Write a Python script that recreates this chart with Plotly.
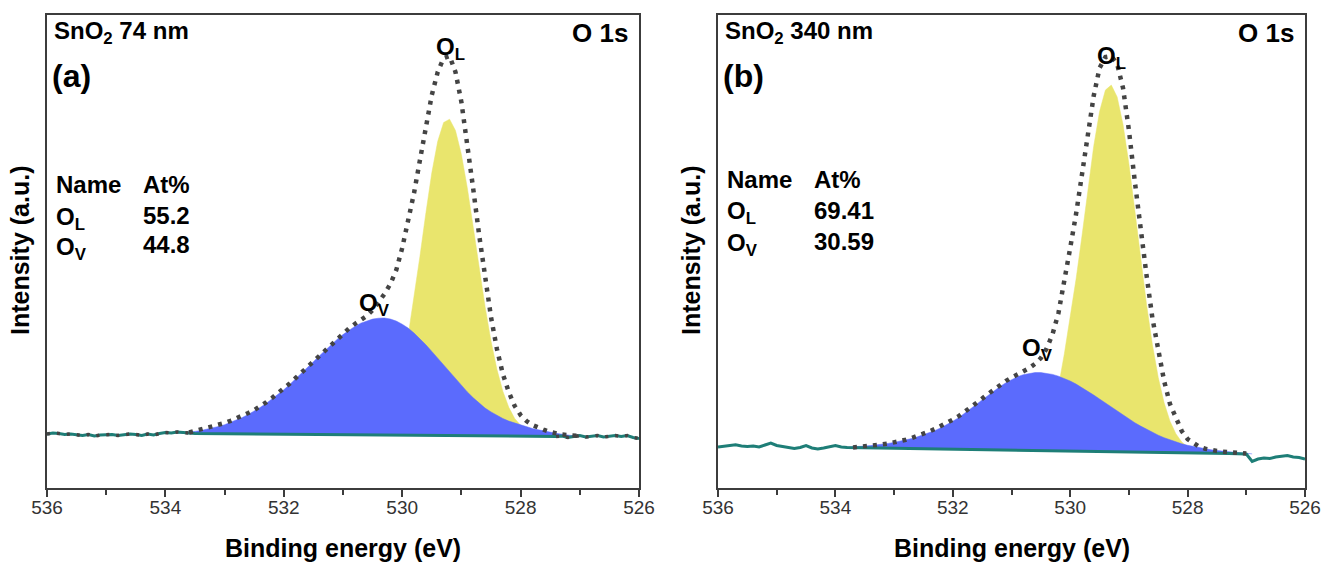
import plotly.graph_objects as go

W, H = 1323, 564
TOP, BOTTOM = 15, 488          # plot-area pixel rows
XA = (47, 639)                 # panel (a) pixel columns
XB = (718, 1305)               # panel (b) pixel columns

# ------------------------- panel (a): SnO2 74 nm -------------------------
E_a_noise_left = [536.0, 535.9, 535.8, 535.7, 535.6, 535.5, 535.4, 535.3, 535.2, 535.1,
                  535.0, 534.9, 534.8, 534.7, 534.6, 534.5, 534.4, 534.3, 534.2, 534.1,
                  534.0, 533.9, 533.8, 533.7, 533.6, 533.5]
I_a_noise_left = [54.0, 55.0, 54.5, 53.5, 54.0, 53.0, 52.5, 53.5, 52.0, 53.0,
                  53.5, 53.5, 52.5, 53.0, 54.0, 53.5, 52.5, 54.0, 53.0, 54.5,
                  55.5, 55.0, 56.0, 55.5, 55.0, 54.6]
E_a_noise_right = [527.4, 527.3, 527.2, 527.1, 527.0, 526.9, 526.8, 526.7, 526.6, 526.5,
                   526.4, 526.3, 526.2, 526.1, 526.0]
I_a_noise_right = [51.5, 52.0, 50.5, 51.5, 52.5, 51.0, 52.0, 52.5, 51.0, 52.0,
                   52.5, 51.5, 52.5, 50.5, 49.5]

E_a_ov = [533.8, 533.7, 533.6, 533.5, 533.4, 533.3, 533.2, 533.1, 533.0, 532.9,
          532.8, 532.7, 532.6, 532.5, 532.4, 532.3, 532.2, 532.1, 532.0, 531.9,
          531.8, 531.7, 531.6, 531.5, 531.4, 531.3, 531.2, 531.1, 531.0, 530.9,
          530.8, 530.7, 530.6, 530.5, 530.4, 530.3, 530.2, 530.1, 530.0, 529.9,
          529.8, 529.7, 529.6, 529.5, 529.4, 529.3, 529.2, 529.1, 529.0, 528.9,
          528.8, 528.7, 528.6, 528.5, 528.4, 528.3, 528.2, 528.1, 528.0, 527.9,
          527.8, 527.7, 527.6, 527.5, 527.4, 527.3, 527.2, 527.1, 527.0]
I_a_ov = [54.7, 55.2, 55.8, 56.6, 57.5, 58.7, 60.0, 61.6, 63.3, 65.5,
          67.8, 70.5, 73.6, 76.9, 80.5, 84.4, 88.7, 93.3, 98.2, 103.5,
          109.0, 114.7, 120.4, 126.3, 132.1, 137.9, 143.4, 148.6, 153.4, 157.8,
          161.6, 164.8, 167.2, 168.9, 169.8, 170.0, 169.0, 166.9, 163.8, 159.9,
          154.9, 149.4, 143.2, 136.6, 129.7, 122.7, 115.7, 109.0, 102.3, 96.1,
          90.2, 84.8, 79.9, 76.1, 72.5, 69.5, 66.9, 64.9, 62.8, 61.1,
          59.5, 58.2, 56.9, 55.8, 54.7, 53.8, 52.9, 52.2, 51.3]

E_a_ol = [530.8, 530.7, 530.6, 530.5, 530.4, 530.3, 530.2, 530.1, 530.0, 529.9,
          529.8, 529.7, 529.6, 529.5, 529.4, 529.3, 529.2, 529.1, 529.0, 528.9,
          528.8, 528.7, 528.6, 528.5, 528.4, 528.3, 528.2, 528.1, 528.0, 527.9,
          527.8, 527.7, 527.6, 527.5, 527.4]
I_a_ol = [53.2, 54.4, 55.6, 58.0, 62.2, 69.4, 80.8, 97.7, 121.3, 152.1,
          189.6, 231.8, 275.1, 315.2, 346.7, 365.5, 368.8, 357.5, 333.5, 300.1,
          260.8, 220.1, 181.3, 147.0, 118.7, 96.8, 80.7, 69.5, 62.8, 58.8,
          55.9, 54.1, 52.9, 52.2, 51.5]

E_a_env = [533.6, 533.5, 533.4, 533.3, 533.2, 533.1, 533.0, 532.9, 532.8, 532.7,
           532.6, 532.5, 532.4, 532.3, 532.2, 532.1, 532.0, 531.9, 531.8, 531.7,
           531.6, 531.5, 531.4, 531.3, 531.2, 531.1, 531.0, 530.9, 530.8, 530.7,
           530.6, 530.5, 530.4, 530.3, 530.2, 530.1, 530.0, 529.9, 529.8, 529.7,
           529.6, 529.5, 529.4, 529.3, 529.2, 529.1, 529.0, 528.9, 528.8, 528.7,
           528.6, 528.5, 528.4, 528.3, 528.2, 528.1, 528.0, 527.9, 527.8, 527.7,
           527.6, 527.5, 527.4, 527.3, 527.2, 527.1, 527.0]
I_a_env = [55.5, 57.0, 58.5, 60.0, 61.5, 63.2, 65.0, 67.2, 69.5, 72.0,
           75.0, 78.0, 81.5, 85.5, 90.0, 94.5, 99.5, 104.5, 110.0, 115.5,
           121.0, 127.0, 133.0, 139.0, 144.5, 150.0, 155.0, 159.5, 164.0, 168.0,
           172.0, 178.0, 186.0, 194.0, 204.0, 218.0, 240.0, 266.0, 295.0, 328.0,
           361.0, 393.0, 416.0, 430.0, 432.0, 416.0, 386.0, 345.0, 299.0, 253.0,
           209.0, 171.0, 139.0, 114.0, 96.0, 82.0, 73.0, 67.0, 63.0, 60.0,
           58.0, 56.0, 54.5, 53.5, 53.0, 52.5, 52.0]

# ------------------------- panel (b): SnO2 340 nm ------------------------
E_b_noise_left = [536.0, 535.9, 535.8, 535.7, 535.6, 535.5, 535.4, 535.3, 535.2, 535.1,
                  535.0, 534.9, 534.8, 534.7, 534.6, 534.5, 534.4, 534.3, 534.2, 534.1,
                  534.0, 533.9, 533.8]
I_b_noise_left = [41.0, 41.8, 42.5, 43.2, 42.0, 41.5, 42.0, 41.0, 43.0, 45.0,
                  42.5, 41.5, 40.0, 39.5, 40.5, 42.5, 40.0, 39.0, 40.0, 41.5,
                  42.5, 41.0, 40.5]
E_b_noise_right = [527.3, 527.2, 527.1, 527.0, 526.9, 526.8, 526.7, 526.6, 526.5, 526.4,
                   526.3, 526.2, 526.1, 526.0]
I_b_noise_right = [34.5, 34.3, 34.2, 34.0, 26.5, 29.0, 30.0, 29.5, 31.0, 31.5,
                   32.5, 31.0, 30.5, 29.0]

E_b_ov = [533.9, 533.8, 533.7, 533.6, 533.5, 533.4, 533.3, 533.2, 533.1, 533.0,
          532.9, 532.8, 532.7, 532.6, 532.5, 532.4, 532.3, 532.2, 532.1, 532.0,
          531.9, 531.8, 531.7, 531.6, 531.5, 531.4, 531.3, 531.2, 531.1, 531.0,
          530.9, 530.8, 530.7, 530.6, 530.5, 530.4, 530.3, 530.2, 530.1, 530.0,
          529.9, 529.8, 529.7, 529.6, 529.5, 529.4, 529.3, 529.2, 529.1, 529.0,
          528.9, 528.8, 528.7, 528.6, 528.5, 528.4, 528.3, 528.2, 528.1, 528.0,
          527.9, 527.8, 527.7, 527.6, 527.5, 527.4, 527.3, 527.2, 527.1, 527.0,
          526.9]
I_b_ov = [40.6, 40.8, 41.1, 41.5, 41.9, 42.4, 43.0, 43.7, 44.6, 45.6,
          46.7, 48.0, 49.5, 51.2, 53.1, 55.2, 57.6, 60.3, 63.3, 66.8,
          70.3, 74.4, 78.9, 83.5, 88.1, 92.6, 97.1, 101.2, 105.1, 108.4,
          111.2, 113.3, 114.7, 115.4, 115.4, 114.8, 113.6, 111.8, 109.6, 107.0,
          103.9, 100.5, 96.9, 93.0, 89.0, 84.9, 80.8, 76.8, 72.9, 69.0,
          65.3, 61.9, 58.6, 55.6, 52.8, 50.3, 48.1, 46.0, 44.2, 42.7,
          41.4, 40.2, 39.1, 38.2, 37.5, 36.8, 36.3, 35.7, 35.1, 34.6,
          34.1]

E_b_ol = [530.9, 530.8, 530.7, 530.6, 530.5, 530.4, 530.3, 530.2, 530.1, 530.0,
          529.9, 529.8, 529.7, 529.6, 529.5, 529.4, 529.3, 529.2, 529.1, 529.0,
          528.9, 528.8, 528.7, 528.6, 528.5, 528.4, 528.3, 528.2, 528.1, 528.0,
          527.9, 527.8, 527.7, 527.6, 527.5]
I_b_ol = [38.6, 39.7, 41.6, 45.5, 52.0, 62.4, 78.3, 101.2, 134.1, 172.0,
          208.9, 251.8, 297.7, 341.6, 376.5, 397.9, 402.9, 391.0, 363.5, 324.2,
          277.9, 229.6, 183.8, 143.5, 110.5, 85.2, 66.8, 54.2, 46.1, 41.1,
          38.2, 36.6, 35.6, 35.1, 34.7]

E_b_env = [533.7, 533.6, 533.5, 533.4, 533.3, 533.2, 533.1, 533.0, 532.9, 532.8,
           532.7, 532.6, 532.5, 532.4, 532.3, 532.2, 532.1, 532.0, 531.9, 531.8,
           531.7, 531.6, 531.5, 531.4, 531.3, 531.2, 531.1, 531.0, 530.9, 530.8,
           530.7, 530.6, 530.5, 530.4, 530.3, 530.2, 530.1, 530.0, 529.9, 529.8,
           529.7, 529.6, 529.5, 529.4, 529.3, 529.2, 529.1, 529.0, 528.9, 528.8,
           528.7, 528.6, 528.5, 528.4, 528.3, 528.2, 528.1, 528.0, 527.9, 527.8,
           527.7, 527.6, 527.5, 527.4, 527.3, 527.2, 527.1, 527.0]
I_b_env = [40.6, 41.0, 41.6, 42.3, 43.0, 43.6, 44.4, 45.5, 46.8, 48.3,
           50.0, 52.0, 54.2, 56.6, 59.2, 62.0, 65.0, 68.3, 71.8, 75.9,
           80.3, 84.8, 89.4, 94.0, 98.6, 102.8, 106.8, 110.4, 113.5, 116.6,
           119.8, 124.2, 130.0, 139.5, 154.0, 175.0, 205.0, 240.0, 274.0, 313.0,
           354.0, 392.0, 420.0, 431.0, 432.0, 424.0, 400.0, 358.0, 307.0, 258.0,
           213.0, 170.0, 136.0, 107.0, 84.0, 69.0, 57.0, 49.0, 44.5, 41.2,
           39.3, 37.9, 37.0, 36.3, 35.7, 35.2, 34.8, 34.5]

# ------------------------------ texts -----------------------------------
sample_labels = ["SnO<sub>2</sub> 74 nm", "SnO<sub>2</sub> 340 nm"]
panel_letters = ["(a)", "(b)"]
table_values = [["55.2", "44.8"], ["69.41", "30.59"]]
xtick_vals = [536, 534, 532, 530, 528, 526]
xtick_text = ["536", "534", "532", "530", "528", "526"]

# ------------------------------ styles -----------------------------------
BLUE = "#5b6bfd"
YELLOW = "#e9e56d"
TEAL = "#1e7e77"
DOTS = "#444444"
FRAME = "#3c3c3c"
BOLD = "Liberation Sans, Arial, sans-serif"

fig = go.Figure()


def add_panel(ax, E_nl, I_nl, E_nr, I_nr, E_ov, I_ov, E_ol, I_ol, E_env, I_env, dotted_noise):
    xa, ya = ("x", "y") if ax == 1 else ("x2", "y2")
    fig.add_trace(go.Scatter(x=E_ol, y=I_ol, xaxis=xa, yaxis=ya, mode="lines",
                             fill="toself", fillcolor=YELLOW, line=dict(color=YELLOW, width=0.5),
                             hoverinfo="skip", showlegend=False))
    fig.add_trace(go.Scatter(x=E_ov, y=I_ov, xaxis=xa, yaxis=ya, mode="lines",
                             fill="toself", fillcolor=BLUE, line=dict(color=BLUE, width=0.5),
                             hoverinfo="skip", showlegend=False))
    fig.add_trace(go.Scatter(x=E_nl + E_nr, y=I_nl + I_nr, xaxis=xa, yaxis=ya, mode="lines",
                             line=dict(color=TEAL, width=3), hoverinfo="skip", showlegend=False))
    if dotted_noise:
        for ex, iy in ((E_nl, I_nl), (E_nr, I_nr)):
            fig.add_trace(go.Scatter(x=ex, y=iy, xaxis=xa, yaxis=ya, mode="lines",
                                     line=dict(color=DOTS, width=3.5, dash="3px,7px"),
                                     hoverinfo="skip", showlegend=False))
    fig.add_trace(go.Scatter(x=E_env, y=I_env, xaxis=xa, yaxis=ya, mode="lines",
                             line=dict(color=DOTS, width=4.5, dash="4px,6px"),
                             hoverinfo="skip", showlegend=False))


add_panel(1, E_a_noise_left, I_a_noise_left, E_a_noise_right, I_a_noise_right,
          E_a_ov, I_a_ov, E_a_ol, I_a_ol, E_a_env, I_a_env, True)
add_panel(2, E_b_noise_left, I_b_noise_left, E_b_noise_right, I_b_noise_right,
          E_b_ov, I_b_ov, E_b_ol, I_b_ol, E_b_env, I_b_env, False)

xaxis_common = dict(range=[536, 526], tickmode="array", tickvals=xtick_vals, ticktext=xtick_text,
                    ticks="outside", ticklen=7, tickwidth=1.5, tickcolor=FRAME,
                    minor=dict(dtick=1, tick0=526, ticks="outside", ticklen=5, tickwidth=1.5, tickcolor=FRAME),
                    showline=True, linecolor=FRAME, linewidth=1.5, mirror=True,
                    showgrid=False, zeroline=False, automargin=False, ticklabelstandoff=-6,
                    tickfont=dict(family="Liberation Sans Narrow, Arial Narrow, Liberation Sans, Arial",
                                  size=19, color="#333333"))
yaxis_common = dict(range=[0, BOTTOM - TOP], showticklabels=False, ticks="",
                    showline=True, linecolor=FRAME, linewidth=1.5, mirror=True,
                    showgrid=False, zeroline=False, automargin=False)

fig.update_layout(
    width=W, height=H, plot_bgcolor="white", paper_bgcolor="white",
    margin=dict(l=0, r=0, t=TOP, b=H - BOTTOM, pad=0, autoexpand=False),
    xaxis=dict(domain=[XA[0] / W, XA[1] / W], anchor="y", **xaxis_common),
    yaxis=dict(domain=[0, 1], anchor="x", **yaxis_common),
    xaxis2=dict(domain=[XB[0] / W, XB[1] / W], anchor="y2", **xaxis_common),
    yaxis2=dict(domain=[0, 1], anchor="x2", **yaxis_common),
    showlegend=False,
)


def px(x):
    return x / W


def py(y):
    return (BOTTOM - y) / (BOTTOM - TOP)


def note(text, x, y, size=24, xanchor="center", yanchor="middle", angle=0):
    fig.add_annotation(text=text, x=px(x), y=py(y), xref="paper", yref="paper",
                       showarrow=False, xanchor=xanchor, yanchor=yanchor, textangle=angle,
                       font=dict(family=BOLD, size=size, color="black", weight="bold"))


for i, (x0, x1) in enumerate((XA, XB)):
    note(sample_labels[i], x0 + 5, 33, xanchor="left")
    note(panel_letters[i], x0 + 3, 76, size=32, xanchor="left")
    note("O 1s", x1 - 9, 33, size=26, xanchor="right")
    note("Binding energy (eV)", (x0 + x1) / 2, 548, size=25)
    note("Intensity (a.u.)", x0 - 27, 251, size=25, angle=-90)

# composition tables
rows_y = [(185, 215, 245), (179, 210, 241)]
for i, x0 in enumerate((XA[0], XB[0])):
    ry = rows_y[i]
    note("Name", x0 + 7, ry[0], xanchor="left")
    note("At%", x0 + 94, ry[0], xanchor="left")
    note("O<sub>L</sub>", x0 + 7, ry[1] + 3, xanchor="left")
    note(table_values[i][0], x0 + 94, ry[1], xanchor="left")
    note("O<sub>V</sub>", x0 + 7, ry[2] + 3, xanchor="left")
    note(table_values[i][1], x0 + 94, ry[2], xanchor="left")

# peak labels
note("O<sub>L</sub>", 450, 48)
note("O<sub>V</sub>", 374, 304)
note("O<sub>L</sub>", 1111, 57)
note("O<sub>V</sub>", 1037, 349)

fig.write_html("out.html")
